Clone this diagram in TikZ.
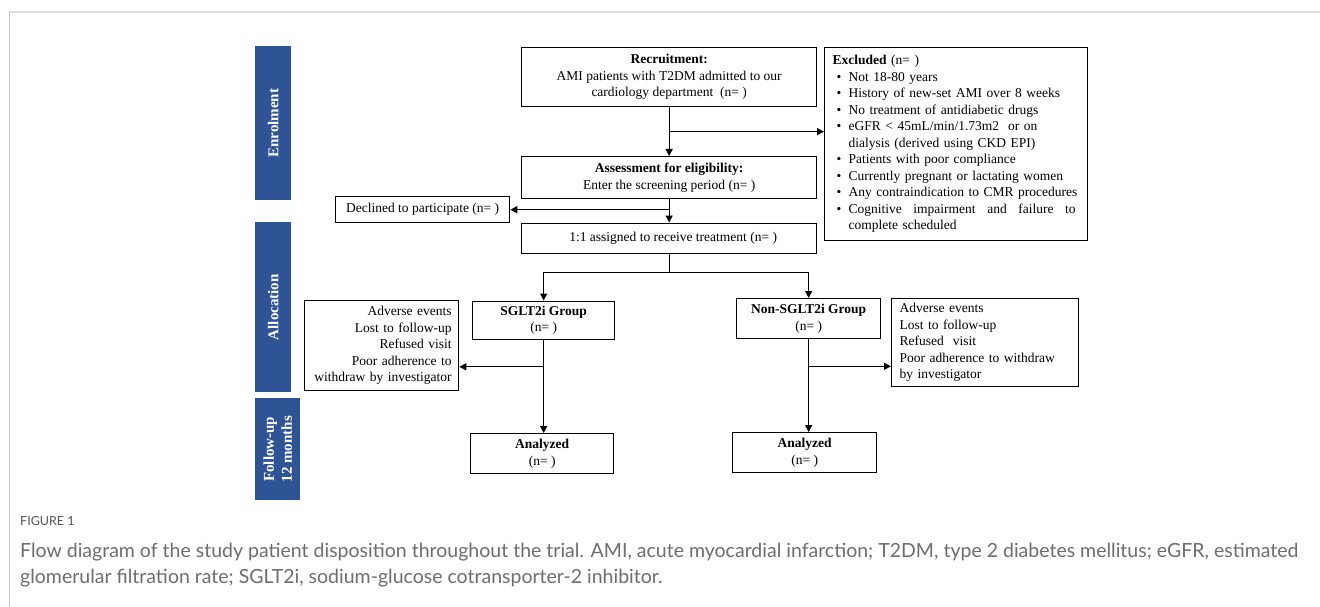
\documentclass[tikz,border=0pt]{standalone}
\usepackage{fontspec}
\setmainfont{Liberation Serif}
\newfontfamily\capfont{Lato}
\usetikzlibrary{arrows.meta,calc}
\definecolor{barblue}{RGB}{46,84,150}
\definecolor{frameA}{RGB}{222,222,222}
\definecolor{frameB}{RGB}{200,200,200}
\definecolor{capgray}{RGB}{110,110,110}
\definecolor{figgray}{RGB}{85,85,85}
\begin{document}
\begin{tikzpicture}[x=1pt,y=-1pt,
 box/.style={draw=black, line width=1.3pt, anchor=north west, inner sep=0pt, align=center, font=\fontsize{13.5}{16.5}\selectfont},
 bar/.style={fill=barblue, draw=none, anchor=north west, inner sep=0pt},
 bartext/.style={text=white, font=\bfseries\fontsize{15}{18}\selectfont, rotate=90, align=center},
 conn/.style={line width=1.3pt},
 arr/.style={conn, -{Triangle[length=7pt,width=7pt]}},
 capline/.style={anchor=base west, inner sep=0pt, text=capgray, font=\capfont\fontsize{19.5}{26}\selectfont}]
\useasboundingbox (0,0) rectangle (1320,607);
\fill[white] (0,0) rectangle (1320,607);
\draw[line width=2pt, frameA] (9,12.5) -- (1320,12.5);
\draw[line width=1pt, frameB] (9.5,12) -- (9.5,607);

% side bars
\node[bar, minimum width=36pt, minimum height=154pt] (b1) at (255,46) {};
\node[bartext] (t1) at (b1.center) {Enrolment};
\node[bar, minimum width=36pt, minimum height=170pt] (b2) at (255,222) {};
\node[bartext] (t2) at (b2.center) {Allocation};
\node[bar, minimum width=45pt, minimum height=102pt] (b3) at (255,398) {};
\node[bartext] (t3) at (b3.center) {Follow-up\\12 months};

% main column
\node[box, minimum width=295pt, minimum height=59pt] (rec) at (521,47)
 {\textbf{Recruitment:}\\AMI patients with T2DM admitted to our\\cardiology department~ (n= )};
\node[box, minimum width=295pt, minimum height=42pt] (ass) at (521,156)
 {\textbf{Assessment for eligibility:}\\Enter the screening period (n= )};
\node[box, minimum width=174pt, minimum height=26pt] (dec) at (335,196)
 {Declined to participate (n= )};
\node[box, minimum width=295pt, minimum height=30pt] (one) at (521,222.5)
 {\hspace*{8pt}1:1 assigned to receive treatment (n= )};

\node[box, minimum width=263pt, minimum height=193pt, text width=247pt, inner xsep=8pt, align=left] (exc) at (824,47)
 {\textbf{Excluded} (n= )\\
 \makebox[16pt][l]{\hspace{4pt}•}Not 18-80 years\\
 \makebox[16pt][l]{\hspace{4pt}•}History of new-set AMI over 8 weeks\\
 \makebox[16pt][l]{\hspace{4pt}•}No treatment of antidiabetic drugs\\
 \makebox[16pt][l]{\hspace{4pt}•}eGFR < 45mL/min/1.73m2~ or on\\
 \hspace*{16pt}dialysis (derived using CKD EPI)\\
 \makebox[16pt][l]{\hspace{4pt}•}Patients with poor compliance\\
 \makebox[16pt][l]{\hspace{4pt}•}Currently pregnant or lactating women\\
 \makebox[16pt][l]{\hspace{4pt}•}Any contraindication to CMR procedures\\
 \makebox[16pt][l]{\hspace{4pt}•}\makebox[227pt][s]{Cognitive\hfill impairment\hfill and\hfill failure\hfill to}\\
 \hspace*{16pt}complete scheduled};

% groups
\node[box, minimum width=142pt, minimum height=38pt] (sg) at (472,300.5)
 {\textbf{SGLT2i Group}\\(n= )};
\node[box, minimum width=144pt, minimum height=40pt] (nsg) at (736,298)
 {\textbf{Non-SGLT2i Group}\\(n= )};
\node[box, minimum width=154pt, minimum height=90pt, text width=140pt, inner xsep=7pt, align=right] (lb) at (304,300)
 {Adverse events\\Lost to follow-up\\Refused visit\\Poor adherence to\\withdraw by investigator};
\node[box, minimum width=187pt, minimum height=88pt, text width=171pt, inner xsep=8pt, align=left] (rb) at (891,298)
 {Adverse events\\Lost to follow-up\\Refused~ visit\\Poor adherence to withdraw\\by investigator};
\node[box, minimum width=143pt, minimum height=40pt] (anL) at (470,433)
 {\textbf{Analyzed}\\(n= )};
\node[box, minimum width=144pt, minimum height=40pt] (anR) at (732,432)
 {\textbf{Analyzed}\\(n= )};

% connectors
\draw[arr] (rec.south) -- (ass.north);
\coordinate (j1) at ($(rec.south)!0.5!(ass.north)$);
\draw[arr] (j1) -- (j1 -| exc.west);
\draw[arr] (ass.south) -- (one.north);
\coordinate (j2) at ($(ass.south)!0.45!(one.north)$);
\draw[arr] (j2) -- (j2 -| dec.east);
\coordinate (j3) at ($(one.south)+(0,19)$);
\draw[conn] (one.south) -- (j3);
\draw[arr] (j3) -| (sg.north);
\draw[arr] (j3) -| (nsg.north);
\draw[arr] (sg.south) -- (sg.south |- anL.north);
\coordinate (j4) at ($(sg.south)+(0,27)$);
\draw[arr] (j4) -- (j4 -| lb.east);
\draw[arr] (nsg.south) -- (nsg.south |- anR.north);
\coordinate (j5) at ($(nsg.south)+(0,27)$);
\draw[arr] (j5) -- (j5 -| rb.west);

% caption
\node[anchor=base west, inner sep=0pt, text=figgray, font=\capfont\fontsize{12.5}{14}\selectfont] (fig) at (20,525) {FIGURE 1};
\node[capline] (cap1) at (20,557)
 {Flow diagram of the study patient disposition throughout the trial. AMI, acute myocardial infarction; T2DM, type 2 diabetes mellitus; eGFR, estimated};
\node[capline] (cap2) at (20,583)
 {glomerular filtration rate; SGLT2i, sodium-glucose cotransporter-2 inhibitor.};
\end{tikzpicture}
\end{document}
